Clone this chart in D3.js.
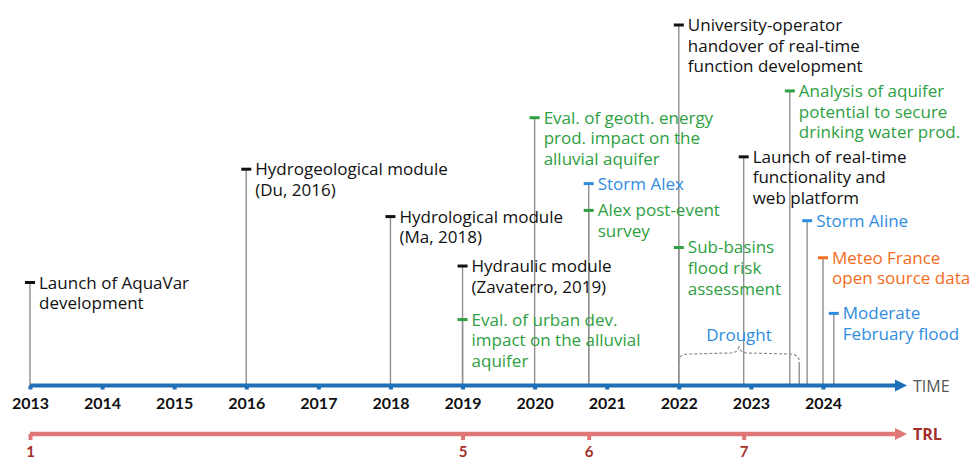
<!DOCTYPE html>
<html>
<script src="https://d3js.org/d3.v7.min.js"></script>

<head>
    <style>
        body {
            margin: 0;
            background-color: #ffffff;
            font-family: "Open Sans", Lato, sans-serif;
        }

        svg {
            display: block;
        }
    </style>
</head>

<body>
</body>
<script>
    const width = 972,
        height = 458;

    // events on the timeline (decimal years)
    const eventDates = [2013.0, 2016.0, 2018.0, 2019.0, 2019.0, 2020.0, 2020.75, 2020.75,
        2022.0, 2022.0, 2022.9, 2023.54, 2023.78, 2024.0, 2024.15];
    const eventLabels = [
        ["Launch of AquaVar", "development"],
        ["Hydrogeological module", "(Du, 2016)"],
        ["Hydrological module", "(Ma, 2018)"],
        ["Hydraulic module", "(Zavaterro, 2019)"],
        ["Eval. of urban dev.", "impact on the alluvial", "aquifer"],
        ["Eval. of geoth. energy", "prod. impact on the", "alluvial aquifer"],
        ["Storm Alex"],
        ["Alex post-event", "survey"],
        ["University-operator", "handover of real-time", "function development"],
        ["Sub-basins", "flood risk", "assessment"],
        ["Launch of real-time", "functionality and", "web platform"],
        ["Analysis of aquifer", "potential to secure", "drinking water prod."],
        ["Storm Aline"],
        ["Meteo France", "open source data"],
        ["Moderate", "February flood"]
    ];
    const eventTypes = ["model", "model", "model", "model", "study", "study", "hazard", "study",
        "model", "study", "model", "study", "hazard", "data", "hazard"];
    // stem heights, in text lines above the time axis
    const eventLevels = [5.0, 10.5, 8.2, 5.8, 3.2, 13.0, 9.8, 8.5, 17.5, 6.7, 11.1, 14.3, 8.0, 6.2, 3.5];

    const years = d3.range(2013, 2025);
    const trlLevels = [1, 5, 6, 7];
    const trlDates = [2013.0, 2019.0, 2020.75, 2022.9];
    const droughtSpan = [2022.0, 2023.67];

    const typeColor = {
        model: "#111111",
        study: "#2ea043",
        hazard: "#2f8de0",
        data: "#f36c21"
    };

    const axisY = 385.5,
        trlY = 434;

    const x = d3.scaleLinear().domain([2013, 2024]).range([30, 823]);
    const level = d3.scaleLinear().domain([0, 1]).range([axisY, axisY - 20.6]);

    const svg = d3.select("body").append("svg").attr("width", width).attr("height", height);

    const defs = svg.append("defs");
    function arrow(id, color) {
        defs.append("marker")
            .attr("id", id)
            .attr("viewBox", "0 0 10 10")
            .attr("refX", 0).attr("refY", 5)
            .attr("markerUnits", "userSpaceOnUse")
            .attr("markerWidth", 12).attr("markerHeight", 13)
            .attr("orient", "auto")
            .append("path").attr("d", "M0,0L10,5L0,10Z").attr("fill", color);
    }
    arrow("arrBlue", "#1f6fb6");
    arrow("arrRed", "#df7777");

    // stems
    const ev = eventDates.map((d, i) => ({
        date: d, lines: eventLabels[i], type: eventTypes[i], lvl: eventLevels[i]
    }));

    svg.append("g").selectAll("line")
        .data(ev)
        .join("line")
        .attr("x1", d => x(d.date)).attr("x2", d => x(d.date))
        .attr("y1", d => level(d.lvl)).attr("y2", axisY)
        .attr("stroke", "#8f8f8f").attr("stroke-width", 1.4);

    // drought brace
    const dx0 = x(droughtSpan[0]),
        dx1 = x(droughtSpan[1]),
        dm = (dx0 + dx1) / 2;
    const by = 353;
    svg.append("path")
        .attr("d", `M${dx0},${by + 9} Q${dx0},${by + 1} ${dx0 + 10},${by + 1} L${dm - 8},${by}
            Q${dm - 2},${by} ${dm},${by - 6} Q${dm + 2},${by} ${dm + 8},${by}
            L${dx1 - 10},${by + 1} Q${dx1},${by + 1} ${dx1},${by + 9}`)
        .attr("fill", "none").attr("stroke", "#8f8f8f")
        .attr("stroke-width", 1.2).attr("stroke-dasharray", "3,2");
    svg.append("line")
        .attr("x1", dx1).attr("x2", dx1).attr("y1", by + 9).attr("y2", axisY)
        .attr("stroke", "#8f8f8f").attr("stroke-width", 1.4);
    svg.append("text")
        .attr("x", dm).attr("y", by - 12)
        .attr("text-anchor", "middle")
        .attr("font-size", 17).attr("fill", typeColor.hazard)
        .text("Drought");

    // event markers and labels
    const eg = svg.append("g").selectAll("g")
        .data(ev)
        .join("g")
        .attr("transform", d => `translate(${x(d.date)},${level(d.lvl)})`);
    eg.append("line")
        .attr("x1", -5).attr("x2", 5)
        .attr("stroke", d => typeColor[d.type]).attr("stroke-width", 3);
    eg.append("text")
        .attr("x", 9)
        .attr("font-size", 17)
        .attr("fill", d => typeColor[d.type])
        .selectAll("tspan")
        .data(d => d.lines)
        .join("tspan")
        .attr("x", 9)
        .attr("y", (d, i) => 6 + i * 20.6)
        .text(d => d);

    // time axis
    svg.append("line")
        .attr("x1", x(2013)).attr("x2", 895)
        .attr("y1", axisY).attr("y2", axisY)
        .attr("stroke", "#1f6fb6").attr("stroke-width", 4)
        .attr("marker-end", "url(#arrBlue)");
    const timeAxis = svg.append("g")
        .attr("transform", `translate(0,${axisY})`)
        .call(d3.axisBottom(x).tickValues(years).tickFormat(d3.format("d")).tickSize(4).tickPadding(8));
    timeAxis.select(".domain").remove();
    timeAxis.selectAll(".tick line").attr("stroke", "#1f6fb6").attr("stroke-width", 4);
    timeAxis.selectAll(".tick text")
        .attr("font-family", "Lato, sans-serif")
        .attr("font-size", 16).attr("font-weight", "bold").attr("fill", "#111");
    svg.append("text")
        .attr("x", 913).attr("y", axisY + 6)
        .attr("font-size", 16).attr("fill", "#555")
        .text("TIME");

    // TRL axis
    svg.append("line")
        .attr("x1", x(2013)).attr("x2", 895)
        .attr("y1", trlY).attr("y2", trlY)
        .attr("stroke", "#df7777").attr("stroke-width", 4.5)
        .attr("marker-end", "url(#arrRed)");
    const trlAxis = svg.append("g")
        .attr("transform", `translate(0,${trlY})`)
        .call(d3.axisBottom(x).tickValues(trlDates)
            .tickFormat((d, i) => trlLevels[i]).tickSize(6));
    trlAxis.select(".domain").remove();
    trlAxis.selectAll(".tick line").attr("stroke", "#df7777").attr("stroke-width", 4);
    trlAxis.selectAll(".tick text")
        .attr("y", 22.5).attr("dy", null)
        .attr("font-family", "Lato, sans-serif")
        .attr("font-size", 15).attr("font-weight", "bold").attr("fill", "#a3302b");
    svg.append("text")
        .attr("x", 913).attr("y", trlY + 6)
        .attr("font-size", 16).attr("font-weight", "bold").attr("fill", "#a3302b")
        .text("TRL");
</script>

</html>
